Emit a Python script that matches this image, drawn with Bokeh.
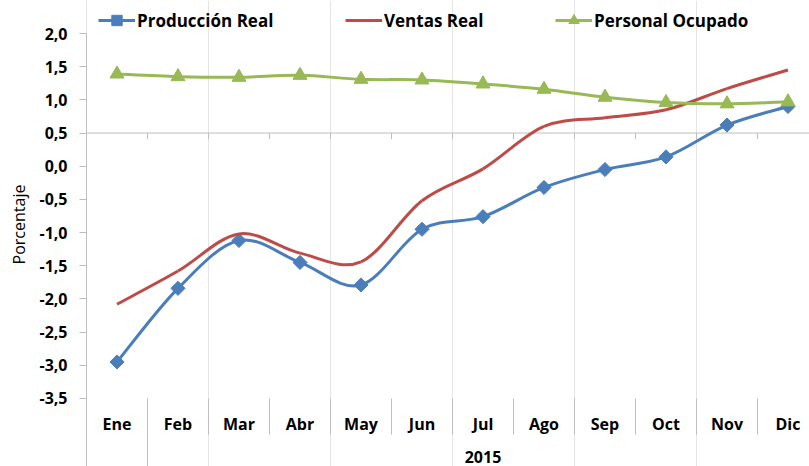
import math
import numpy as np
from bokeh.plotting import figure
from bokeh.models import (Range1d, FixedTicker, CustomJSTickFormatter, Span,
                          Legend, LegendItem)
from bokeh.core.properties import value
from bokeh.embed import file_html
from bokeh.resources import INLINE

# ---------------- data ----------------
months = ["Ene", "Feb", "Mar", "Abr", "May", "Jun", "Jul", "Ago", "Sep", "Oct", "Nov", "Dic"]
year_label = "2015"
produccion = [-2.95, -1.84, -1.12, -1.45, -1.79, -0.95, -0.76, -0.32, -0.05, 0.14, 0.62, 0.90]
ventas = [-2.08, -1.58, -1.02, -1.31, -1.44, -0.52, -0.04, 0.60, 0.73, 0.85, 1.17, 1.45]
personal = [1.39, 1.35, 1.34, 1.37, 1.31, 1.30, 1.24, 1.16, 1.04, 0.96, 0.94, 0.97]
y_ticks = [-3.5, -3.0, -2.5, -2.0, -1.5, -1.0, -0.5, 0.0, 0.5, 1.0, 1.5, 2.0]
series_names = ["Producción Real", "Ventas Real", "Personal Ocupado"]
y_title = "Porcentaje"

# ---------------- geometry (pixels) ----------------
W, H = 809, 466
LEFT = 86            # pixel column of the value axis
PX_X = 61.0          # px per category
PX_Y = 66.36         # px per unit
TOP_PAD = 33         # px between figure top and y=2.0
y_max = max(y_ticks)
y_min_tick = min(y_ticks)
y_end = y_max + TOP_PAD / PX_Y
y_start = y_max - (H - TOP_PAD) / PX_Y
x_start = -LEFT / PX_X
x_end = (W - LEFT) / PX_X


def y_at(px):
    return y_max - (px - TOP_PAD) / PX_Y


def x_at(px):
    return (px - LEFT) / PX_X


BLUE, RED, GREEN = "#4A7EBB", "#BE4B48", "#98B954"
AXIS = "#BFBFBF"
FONT = "Open Sans"

p = figure(width=W, height=H, output_backend="svg", toolbar_location=None,
           x_axis_location=None, x_range=Range1d(x_start, x_end),
           y_range=Range1d(y_start, y_end),
           min_border_left=0, min_border_right=0, min_border_top=0, min_border_bottom=0)
p.outline_line_color = None
p.ygrid.grid_line_color = None
p.background_fill_color = "white"
p.border_fill_color = "white"

ax = p.yaxis[0]
ax.fixed_location = 0
ax.ticker = FixedTicker(ticks=y_ticks, minor_ticks=[])
ax.formatter = CustomJSTickFormatter(code="return tick.toFixed(1).replace('.', ',');")
ax.bounds = (y_start, y_max)
ax.axis_line_color = AXIS
ax.major_tick_line_color = AXIS
ax.major_tick_out = 7
ax.major_tick_in = 0
ax.minor_tick_line_color = None
ax.major_label_standoff = 12
ax.major_label_text_font = FONT
ax.major_label_text_font_style = "bold"
ax.major_label_text_font_size = "16px"
ax.major_label_text_color = "black"

n = len(months)
xc = [i + 0.5 for i in range(n)]

# y-axis title
p.text(x=[x_at(18)], y=[y_at(224)], text=[y_title], angle=math.pi / 2,
       text_font=value(FONT), text_font_size="16px", text_align="center",
       text_baseline="middle", text_color="black")

# horizontal axis line crossing at 0.5 with downward ticks on category boundaries
cross = 0.5
p.segment(x0=[0], y0=[cross], x1=[x_end], y1=[cross], line_color=AXIS, line_width=1)
bounds_x = list(range(1, n))
p.segment(x0=bounds_x, y0=[cross] * len(bounds_x), x1=bounds_x,
          y1=[cross - 6 / PX_Y] * len(bounds_x), line_color=AXIS, line_width=1)

# category label separators at the bottom
p.segment(x0=bounds_x, y0=[y_min_tick] * len(bounds_x), x1=bounds_x,
          y1=[y_at(434)] * len(bounds_x), line_color=AXIS, line_width=1)
# group separator (Ene | 2015 group) extends to the bottom
p.segment(x0=[1], y0=[y_min_tick], x1=[1], y1=[y_start], line_color=AXIS, line_width=1)

# category labels
p.text(x=xc, y=[y_at(423)] * n, text=months, text_font=value(FONT), text_font_style="bold",
       text_font_size="16px", text_align="center", text_baseline="middle", text_color="black")
p.text(x=[(1 + n) / 2], y=[y_at(456)], text=[year_label], text_font=value(FONT),
       text_font_style="bold", text_font_size="16px", text_align="center",
       text_baseline="middle", text_color="black")


def smooth(xs, ys):
    m = len(xs)
    out = {k: [] for k in ["x0", "y0", "x1", "y1", "cx0", "cy0", "cx1", "cy1"]}
    for i in range(m - 1):
        xa, ya = (xs[i - 1], ys[i - 1]) if i > 0 else (xs[i], ys[i])
        xb, yb = (xs[i + 2], ys[i + 2]) if i + 2 < m else (xs[i + 1], ys[i + 1])
        out["x0"].append(xs[i]); out["y0"].append(ys[i])
        out["x1"].append(xs[i + 1]); out["y1"].append(ys[i + 1])
        out["cx0"].append(xs[i] + (xs[i + 1] - xa) / 6)
        out["cy0"].append(ys[i] + (ys[i + 1] - ya) / 6)
        out["cx1"].append(xs[i + 1] - (xb - xs[i]) / 6)
        out["cy1"].append(ys[i + 1] - (yb - ys[i]) / 6)
    return out


legend_items = []
specs = [(produccion, BLUE, "square", 10, math.pi / 4),
         (ventas, RED, None, 0, 0),
         (personal, GREEN, "triangle", 14, 0)]
for name, (vals, col, mk, sz, ang) in zip(series_names, specs):
    p.bezier(**smooth(xc, vals), line_color=col, line_width=3)
    # legend-only line sample (single NaN point: nothing drawn in the plot)
    rends = [p.line(x=[np.nan], y=[np.nan], line_color=col, line_width=3)]
    if mk:
        rends.append(p.scatter(x=xc, y=vals, marker=mk, size=sz, angle=ang,
                               fill_color=col, line_color=col, line_width=1))
    legend_items.append(LegendItem(label=name, renderers=rends))

leg_x = [98, 345, 555]
LEG_H = 26
for item, lx in zip(legend_items, leg_x):
    lg = Legend(items=[item], location=(lx, H - (20 + LEG_H // 2)),
                orientation="horizontal",
                background_fill_alpha=0, border_line_color=None, padding=0, margin=0,
                spacing=0, label_standoff=2, glyph_width=37, glyph_height=LEG_H,
                label_height=LEG_H, label_text_font=FONT, label_text_font_style="bold",
                label_text_font_size="17px", label_text_color="black",
                label_text_baseline="middle")
    p.add_layout(lg)

open("out.html", "w").write(file_html(p, INLINE))
